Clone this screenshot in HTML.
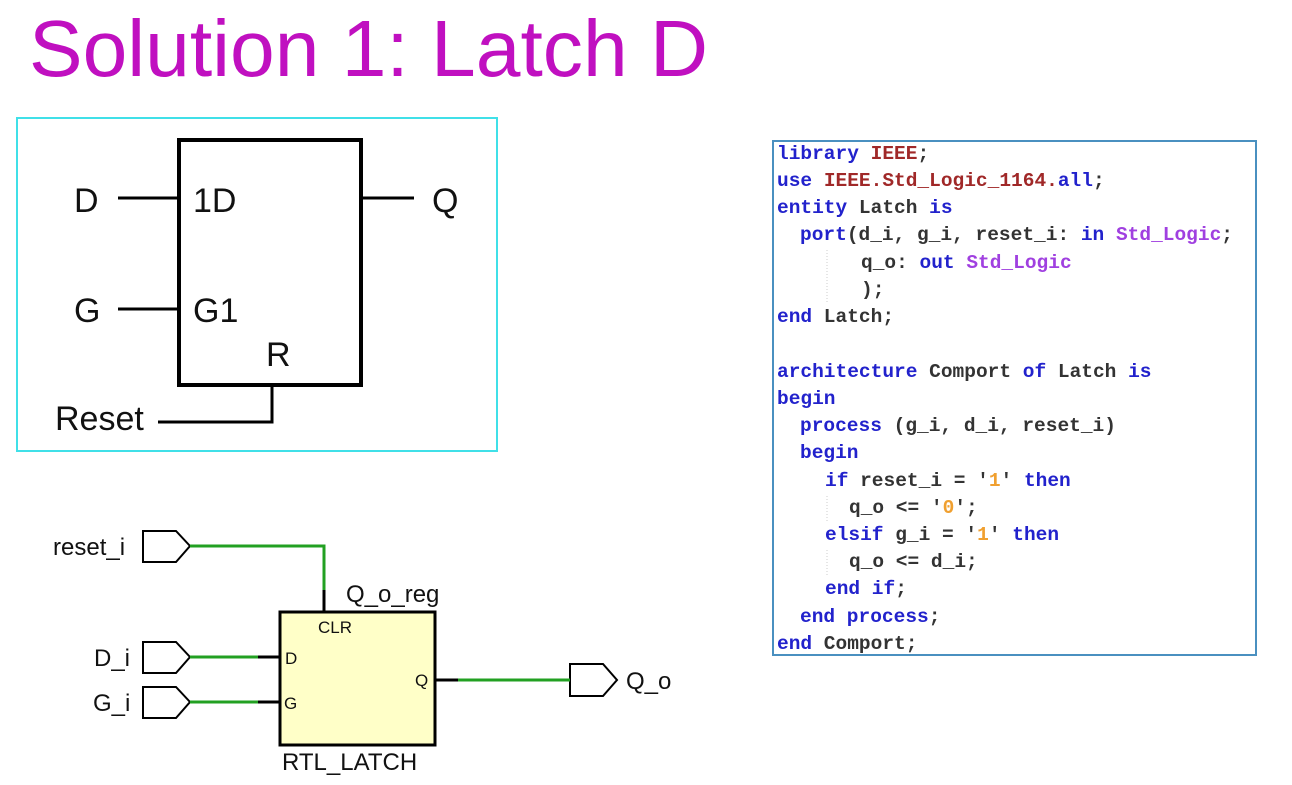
<!DOCTYPE html>
<html><head><meta charset="utf-8"><style>
html,body{margin:0;padding:0;background:#fff;width:1292px;height:785px;overflow:hidden}
svg{display:block}
.c{font-family:"Liberation Mono",monospace;font-size:19.5px;font-weight:bold;fill:#333}
.k{fill:#2222cc}.r{fill:#a02828}.p{fill:#a040e0}.o{fill:#f0a030}
.s{font-family:"Liberation Sans",sans-serif;fill:#111}
</style></head><body>
<svg width="1292" height="785" xmlns="http://www.w3.org/2000/svg">
<text x="29" y="76" font-family="Liberation Sans,sans-serif" font-size="80" fill="#c010c0" textLength="679" lengthAdjust="spacingAndGlyphs">Solution 1: Latch D</text>
<!-- top symbol -->
<rect x="17" y="118" width="480" height="333" fill="none" stroke="#40e0e8" stroke-width="2"/>
<rect x="179" y="140" width="182" height="245" fill="none" stroke="#000" stroke-width="4"/>
<g stroke="#000" stroke-width="3" fill="none">
<line x1="118" y1="198" x2="179" y2="198"/>
<line x1="118" y1="309" x2="179" y2="309"/>
<line x1="361" y1="198" x2="414" y2="198"/>
<polyline points="158,422 272,422 272,385"/>
</g>
<g class="s" font-size="34">
<text x="74" y="212">D</text>
<text x="74" y="322">G</text>
<text x="193" y="212">1D</text>
<text x="193" y="322">G1</text>
<text x="432" y="212">Q</text>
<text x="266" y="366">R</text>
<text x="55" y="430">Reset</text>
</g>
<!-- code -->
<rect x="773" y="141" width="483" height="514" fill="#fff" stroke="#4a90c0" stroke-width="2"/>
<line x1="827" y1="250" x2="827" y2="302" stroke="#ccc" stroke-dasharray="1,2"/>
<line x1="827" y1="496" x2="827" y2="522" stroke="#ccc" stroke-dasharray="1,2"/>
<line x1="827" y1="550" x2="827" y2="576" stroke="#ccc" stroke-dasharray="1,2"/>
<g class="c">
<text x="777" y="159"><tspan class="k">library</tspan> <tspan class="r">IEEE</tspan>;</text>
<text x="777" y="186"><tspan class="k">use</tspan> <tspan class="r">IEEE.Std_Logic_1164.</tspan><tspan class="k">all</tspan>;</text>
<text x="777" y="213"><tspan class="k">entity</tspan> Latch <tspan class="k">is</tspan></text>
<text x="800" y="240"><tspan class="k">port</tspan>(d_i, g_i, reset_i: <tspan class="k">in</tspan> <tspan class="p">Std_Logic</tspan>;</text>
<text x="861" y="268">q_o: <tspan class="k">out</tspan> <tspan class="p">Std_Logic</tspan></text>
<text x="861" y="295">);</text>
<text x="777" y="322"><tspan class="k">end</tspan> Latch;</text>
<text x="777" y="377"><tspan class="k">architecture</tspan> Comport <tspan class="k">of</tspan> Latch <tspan class="k">is</tspan></text>
<text x="777" y="404"><tspan class="k">begin</tspan></text>
<text x="800" y="431"><tspan class="k">process</tspan> (g_i, d_i, reset_i)</text>
<text x="800" y="458"><tspan class="k">begin</tspan></text>
<text x="825" y="486"><tspan class="k">if</tspan> reset_i = '<tspan class="o">1</tspan>' <tspan class="k">then</tspan></text>
<text x="849" y="513">q_o &lt;= '<tspan class="o">0</tspan>';</text>
<text x="825" y="540"><tspan class="k">elsif</tspan> g_i = '<tspan class="o">1</tspan>' <tspan class="k">then</tspan></text>
<text x="849" y="567">q_o &lt;= d_i;</text>
<text x="825" y="594"><tspan class="k">end if</tspan>;</text>
<text x="800" y="622"><tspan class="k">end process</tspan>;</text>
<text x="777" y="649"><tspan class="k">end</tspan> Comport;</text>
</g>
<!-- RTL schematic -->
<rect x="280" y="612" width="155" height="133" fill="#ffffc8" stroke="#000" stroke-width="3"/>
<g fill="#fff" stroke="#000" stroke-width="2">
<polygon points="143,531 176,531 190,546 176,562 143,562"/>
<polygon points="143,642 176,642 190,657 176,673 143,673"/>
<polygon points="143,687 176,687 190,702 176,718 143,718"/>
<polygon points="570,664 603,664 617,680 603,696 570,696"/>
</g>
<g fill="none" stroke="#22a022" stroke-width="3">
<polyline points="190,546 324,546 324,590"/>
<line x1="190" y1="657" x2="258" y2="657"/>
<line x1="190" y1="702" x2="258" y2="702"/>
<line x1="458" y1="680" x2="570" y2="680"/>
</g>
<g stroke="#000" stroke-width="3">
<line x1="324" y1="590" x2="324" y2="611"/>
<line x1="258" y1="657" x2="280" y2="657"/>
<line x1="258" y1="702" x2="280" y2="702"/>
<line x1="435" y1="680" x2="458" y2="680"/>
</g>
<g class="s" font-size="24">
<text x="53" y="555">reset_i</text>
<text x="94" y="666">D_i</text>
<text x="93" y="711">G_i</text>
<text x="346" y="602">Q_o_reg</text>
<text x="282" y="770">RTL_LATCH</text>
<text x="626" y="689">Q_o</text>
</g>
<g class="s" font-size="17">
<text x="318" y="633">CLR</text>
<text x="285" y="664">D</text>
<text x="284" y="709">G</text>
<text x="415" y="686">Q</text>
</g>
</svg>
</body></html>
